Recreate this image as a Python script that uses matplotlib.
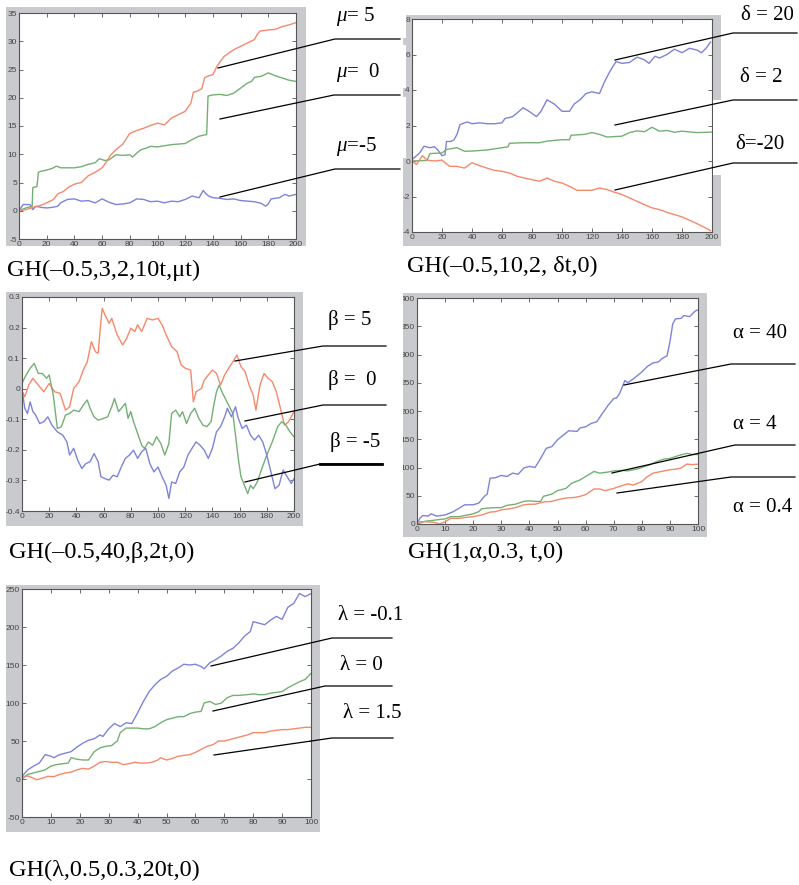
import matplotlib
matplotlib.use("Agg")
import matplotlib.pyplot as plt
from matplotlib.patches import Rectangle
from matplotlib.lines import Line2D

plt.rcParams['mathtext.fontset'] = 'custom'
plt.rcParams['mathtext.rm'] = 'Liberation Serif'
plt.rcParams['mathtext.it'] = 'Liberation Serif:italic'

# ---- data ----
# panel 1: GH(-0.5,3,2,10t,mu t)
p1_t_mu5 = [0, 5, 10, 15, 20, 25, 28, 32, 36, 40, 45, 50, 55, 60, 63, 66, 70, 75, 80, 85, 90, 95, 100,
            105, 110, 115, 120, 124, 126, 128, 132, 134, 136, 140, 143, 148, 152, 155, 160, 165, 170, 172,
            174, 180, 185, 190, 195, 200]
p1_mu5 = [0, 0.2, 0.6, 0.9, 1.4, 2.0, 3.0, 3.4, 4.2, 4.7, 5.0, 6.2, 6.8, 7.6, 8.6, 9.8, 10.8, 11.8, 13.7,
          14.2, 14.6, 15.1, 15.5, 15.2, 16.4, 17.0, 17.6, 19.0, 21.0, 21.1, 21.6, 23.5, 23.8, 24.1, 25.6,
          27.3, 28.0, 28.5, 29.1, 29.7, 30.3, 31.2, 31.8, 32.0, 32.1, 32.6, 32.9, 33.3]
p1_t_mu0 = [0, 5, 9.5, 10, 13, 14, 16, 20, 24, 27, 30, 35, 40, 45, 50, 55, 58, 62, 65, 70, 75, 80, 82, 85,
            88, 92, 95, 100, 105, 110, 115, 120, 125, 130, 135.5, 136.5, 140, 145, 150, 155, 160, 165,
            168, 170, 175, 180, 185, 190, 195, 200]
p1_mu0 = [0, 0.5, 0.8, 4.1, 4.3, 6.8, 7.0, 7.2, 7.5, 7.9, 7.6, 7.6, 7.6, 7.8, 8.2, 8.5, 9.2, 8.9, 9.0,
          9.9, 9.8, 9.9, 9.5, 10.2, 10.8, 11.1, 11.4, 11.3, 11.5, 11.7, 11.8, 11.9, 12.6, 13.2, 13.5,
          20.3, 20.5, 20.6, 20.4, 20.8, 21.7, 22.6, 22.9, 23.6, 23.8, 24.4, 23.9, 23.5, 23.1, 22.9]
p1_t_mum5 = [0, 3, 8, 10, 12, 16, 20, 24, 28, 30, 35, 40, 45, 50, 55, 60, 65, 70, 75, 80, 85, 90, 95,
             100, 105, 110, 115, 120, 125, 130, 133, 135, 137, 140, 145, 150, 155, 160, 165, 170, 175,
             178, 180, 182, 188, 192, 195, 200]
p1_mum5 = [0, 1.1, 1.1, 0.2, 0.8, 0.6, 0.5, 0.6, 0.8, 1.4, 2.0, 2.1, 1.7, 1.8, 1.4, 2.1, 1.5, 1.1, 1.2,
           1.4, 2.1, 2.0, 1.6, 1.7, 1.4, 1.7, 1.6, 2.0, 2.6, 2.3, 3.6, 3.0, 2.6, 2.3, 2.2, 2.0, 2.1, 1.8,
           1.7, 1.6, 1.3, 0.8, 1.2, 2.1, 2.3, 2.9, 2.6, 2.9]

# panel 2: GH(-0.5,10,2,delta t,0)
p2_t_d20 = [0, 3, 5, 8, 12, 15, 17, 20, 22, 23, 26, 28, 30, 32, 35, 37, 40, 45, 50, 55, 60, 62, 65, 67,
            70, 74, 78, 83, 86, 90, 95, 100, 105, 108, 112, 116, 120, 125, 128, 131, 133, 136, 140, 145,
            150, 155, 158, 162, 165, 170, 175, 180, 185, 190, 193, 196, 199]
p2_d20 = [0.08, 0.3, 0.45, 0.83, 0.75, 0.8, 0.64, 0.3, 0.35, 1.1, 1.1, 1.2, 1.5, 2.05, 2.15, 2.2, 2.1,
          2.15, 2.1, 2.1, 2.15, 2.4, 2.45, 2.5, 2.7, 3.0, 2.8, 2.5, 2.8, 3.45, 3.2, 2.8, 2.8, 3.2, 3.45,
          3.8, 3.9, 3.8, 4.4, 4.9, 5.2, 5.6, 5.5, 5.55, 5.85, 5.7, 5.5, 5.9, 5.8, 6.0, 6.3, 6.1, 6.35,
          6.25, 6.1, 6.35, 6.7]
p2_t_d2 = [0, 10, 12, 20, 23, 30, 35, 40, 50, 60, 64, 65, 75, 85, 90, 100, 105, 106, 115, 120, 125, 130,
           140, 145, 150, 155, 160, 165, 170, 175, 180, 190, 200]
p2_d2 = [0, 0.03, 0.42, 0.45, 0.65, 0.75, 0.55, 0.56, 0.62, 0.75, 0.8, 1.0, 1.03, 1.03, 1.12, 1.2, 1.2,
         1.45, 1.5, 1.6, 1.5, 1.35, 1.4, 1.6, 1.7, 1.65, 1.9, 1.68, 1.72, 1.62, 1.68, 1.6, 1.63]
p2_t_dm20 = [0, 3, 7, 10, 15, 20, 25, 30, 35, 40, 45, 50, 55, 60, 65, 70, 75, 80, 85, 90, 95, 100, 105,
             110, 115, 120, 125, 130, 135, 140, 145, 150, 155, 160, 165, 170, 175, 180, 185, 190, 195, 199]
p2_dm20 = [0, -0.2, 0.3, 0.05, 0, 0.05, -0.3, -0.3, -0.4, -0.1, -0.26, -0.4, -0.53, -0.58, -0.68, -0.86,
           -0.96, -1.05, -1.14, -0.96, -1.14, -1.24, -1.43, -1.65, -1.65, -1.65, -1.52, -1.61, -1.76,
           -1.89, -2.08, -2.27, -2.46, -2.64, -2.74, -2.89, -3.02, -3.15, -3.34, -3.53, -3.74, -3.93]

# panel 3: GH(-0.5,40,beta,2t,0)
p3_t_b5 = [0, 2, 5, 8, 12, 16, 20, 24, 28, 32, 35, 38, 42, 45, 48, 51, 54, 56, 58, 59, 61, 64, 66, 70,
           74, 77, 80, 83, 85, 88, 92, 96, 100, 103, 106, 110, 114, 117, 120, 124, 126, 128, 132, 134,
           137, 140, 143, 146, 149, 152, 155, 158, 161, 164, 167, 170, 172, 175, 178, 181, 184, 187,
           190, 193, 196, 200]
p3_b5 = [-0.008, -0.026, 0.012, 0.034, 0.012, -0.01, 0.017, -0.01, -0.015, -0.07, -0.059, 0.001, 0.023,
         0.061, 0.088, 0.154, 0.121, 0.116, 0.22, 0.263, 0.241, 0.214, 0.23, 0.176, 0.143, 0.165, 0.198,
         0.187, 0.209, 0.187, 0.23, 0.225, 0.23, 0.209, 0.176, 0.138, 0.121, 0.078, 0.067, 0.061, -0.043,
         -0.01, 0.001, 0.028, 0.045, 0.061, 0.05, 0.012, 0.045, 0.067, 0.088, 0.11, 0.072, 0.056, 0.012,
         -0.021, -0.07, 0.012, 0.05, 0.034, 0.023, -0.01, -0.064, -0.119, -0.108, -0.075]
p3_t_b0 = [0, 3, 6, 9, 12, 15, 18, 20, 23, 26, 29, 32, 35, 38, 42, 45, 48, 50, 53, 56, 60, 63, 66, 68,
           71, 74, 76, 78, 80, 82, 85, 88, 90, 93, 96, 99, 102, 105, 108, 110, 113, 116, 118, 121, 124,
           127, 130, 133, 136, 139, 141, 143, 145, 147, 150, 152, 155, 157, 159, 161, 163, 166, 168, 170,
           173, 176, 180, 184, 188, 191, 194, 197, 200]
p3_b0 = [0.017, 0.045, 0.067, 0.083, 0.05, 0.05, 0.034, 0.045, -0.021, -0.13, -0.124, -0.086, -0.081,
         -0.07, -0.075, -0.054, -0.037, -0.064, -0.092, -0.103, -0.097, -0.092, -0.059, -0.032, -0.075,
         -0.059, -0.048, -0.097, -0.075, -0.108, -0.146, -0.185, -0.195, -0.174, -0.185, -0.157, -0.179,
         -0.217, -0.179, -0.081, -0.07, -0.092, -0.075, -0.114, -0.081, -0.064, -0.097, -0.119, -0.124,
         -0.108, -0.054, -0.01, 0.012, -0.01, -0.037, -0.054, -0.081, -0.152, -0.228, -0.288, -0.31,
         -0.343, -0.316, -0.327, -0.305, -0.266, -0.217, -0.174, -0.124, -0.108, -0.119, -0.141, -0.157]
p3_t_bm5 = [0, 2, 4, 6, 8, 10, 13, 16, 19, 22, 26, 30, 33, 35, 38, 41, 44, 47, 50, 53, 56, 58, 61, 64,
            67, 70, 73, 76, 79, 82, 85, 88, 91, 94, 97, 100, 103, 106, 108, 110, 113, 116, 119, 122, 125,
            128, 131, 134, 137, 140, 143, 146, 149, 151, 154, 157, 159, 162, 165, 168, 171, 174, 177,
            180, 183, 186, 189, 192, 195, 198, 200]
p3_bm5 = [-0.001, -0.064, -0.081, -0.043, -0.075, -0.086, -0.114, -0.108, -0.092, -0.119, -0.141,
          -0.152, -0.174, -0.217, -0.195, -0.234, -0.261, -0.245, -0.239, -0.212, -0.239, -0.288,
          -0.294, -0.299, -0.283, -0.288, -0.256, -0.228, -0.217, -0.201, -0.228, -0.206, -0.195,
          -0.245, -0.272, -0.256, -0.288, -0.316, -0.359, -0.305, -0.31, -0.272, -0.256, -0.217,
          -0.195, -0.174, -0.185, -0.201, -0.228, -0.195, -0.141, -0.124, -0.092, -0.064, -0.092,
          -0.059, -0.097, -0.13, -0.119, -0.152, -0.168, -0.152, -0.174, -0.217, -0.272, -0.327,
          -0.316, -0.266, -0.288, -0.31, -0.294]

# panel 4: GH(1,alpha,0.3,t,0)
p4_t_a40 = [0, 1, 2, 4, 5, 7, 10, 13, 15, 17, 20, 22, 24, 25, 26, 28, 30, 32, 34, 36, 38, 40, 42, 44,
            46, 48, 50, 52, 54, 57, 58, 60, 62, 64, 66, 68, 70, 71, 72, 73, 74, 75, 77, 80, 82, 84, 86,
            87, 89, 90, 91, 92, 94, 95, 97, 99, 100]
p4_a40 = [0, 10, 15, 14, 18, 14, 16, 22, 28, 34, 34, 37, 49, 53, 81, 82, 86, 84, 90, 88, 99, 102, 100,
          116, 134, 137, 149, 157, 165, 164, 170, 172, 178, 181, 196, 210, 222, 223, 230, 242, 254, 250,
          257, 269, 279, 285, 287, 292, 298, 322, 354, 363, 364, 369, 367, 377, 379]
p4_t_a4 = [0, 3, 5, 8, 10, 12, 15, 18, 20, 22, 23, 25, 28, 30, 32, 35, 38, 40, 42, 44, 45, 48, 50, 53,
           55, 58, 60, 63, 65, 68, 70, 73, 75, 78, 80, 83, 85, 88, 90, 93, 96, 98, 100]
p4_a4 = [0, 5, 6, 8, 9, 13, 13, 16, 18, 22, 27, 28, 29, 29, 33, 35, 40, 41, 40, 40, 49, 53, 59, 63, 72,
         78, 84, 93, 90, 92, 94, 95, 94, 97, 100, 105, 110, 115, 116, 121, 125, 123, 123]
p4_t_a04 = [0, 3, 6, 8, 10, 12, 15, 18, 20, 23, 26, 28, 30, 33, 35, 38, 40, 42, 45, 48, 50, 53, 56, 58,
            60, 63, 65, 67, 70, 73, 75, 77, 80, 82, 84, 86, 88, 90, 92, 94, 96, 98, 100]
p4_a04 = [4, 4, 3, 0, 4, 10, 10, 12, 13, 16, 21, 22, 25, 27, 29, 34, 35, 35, 39, 40, 43, 46, 47, 49,
          52, 62, 62, 59, 63, 68, 71, 69, 75, 84, 90, 92, 94, 96, 97, 99, 106, 105, 106]

# panel 5: GH(lambda,0.5,0.3,20t,0)
p5_t_lm01 = [0, 2, 4, 6, 8, 10, 11, 13, 15, 17, 19, 21, 23, 25, 27, 28, 30, 32, 34, 36, 38, 40, 42, 44,
             46, 48, 50, 52, 54, 56, 58, 60, 62, 63, 65, 67, 69, 71, 73, 75, 77, 79, 80, 82, 84, 86, 88,
             90, 92, 94, 96, 98, 100]
p5_lm01 = [3.5, 12, 17, 21, 32, 30, 28, 32, 34, 36, 42, 47, 51, 53, 58, 56, 66, 73, 69, 74, 73, 87, 102,
           115, 124, 131, 135, 142, 146, 151, 150, 151, 148, 145, 153, 157, 162, 168, 172, 179, 188, 194,
           207, 205, 203, 209, 214, 210, 226, 231, 244, 240, 244]
p5_t_l0 = [0, 2, 4, 6, 8, 10, 12, 14, 16, 17, 19, 21, 23, 25, 27, 29, 31, 33, 34, 36, 40, 42, 44, 46,
           48, 50, 52, 54, 56, 58, 60, 62, 63, 65, 67, 69, 71, 73, 75, 78, 80, 82, 84, 86, 88, 90, 92,
           94, 96, 98, 100]
p5_l0 = [0, 6, 8, 10, 12, 17, 19, 20, 21, 28, 26, 25, 25, 36, 41, 43, 44, 50, 61, 67, 67, 66, 66, 69,
         74, 78, 80, 82, 82, 86, 88, 89, 100, 102, 98, 100, 107, 110, 110, 111, 112, 111, 111, 113, 114,
         115, 120, 124, 128, 131, 139]
p5_t_l15 = [0, 2, 4, 5, 7, 9, 11, 13, 15, 17, 19, 21, 23, 25, 27, 29, 31, 33, 35, 37, 39, 41, 43, 45,
            47, 48, 50, 52, 54, 56, 58, 60, 62, 64, 66, 68, 70, 72, 74, 76, 78, 80, 82, 84, 86, 88, 90,
            92, 94, 96, 98, 100]
p5_l15 = [3, 4, 1, -1, 1, 3.5, 3, 6, 8, 9, 12, 14, 13, 17, 22, 23, 22, 22, 19, 20, 22, 21, 21, 22, 25,
          28, 25, 27, 30, 31, 32, 35, 39, 43, 45, 50, 50, 52, 54, 56, 58, 61, 61, 61, 63, 64, 65, 65, 66,
          67, 68, 68]

BLUE = '#7d84da'
GREEN = '#74b074'
RED = '#f6896b'
GRAY = '#c9cacd'

W, H = 799, 885
fig = plt.figure(figsize=(W / 100, H / 100), dpi=100)


def rect(x0, y0, x1, y1):
    # pixel box (y measured from the top) -> figure fraction
    return [x0 / W, 1 - y1 / H, (x1 - x0) / W, (y1 - y0) / H]


def panel(frame_px, axes_px, xlim, ylim, xticks, yticks, ylabels, series):
    fr = rect(*frame_px)
    frame = Rectangle((fr[0], fr[1]), fr[2], fr[3], transform=fig.transFigure,
                      facecolor=GRAY, edgecolor='none', zorder=0.1)
    fig.add_artist(frame)
    ax = fig.add_axes(rect(*axes_px))
    ax.set_zorder(1)
    for t, v, c in series:
        ax.plot(t, v, color=c, lw=1.0)
    ax.set_xlim(*xlim)
    ax.set_ylim(*ylim)
    ax.set_xticks(xticks)
    ax.set_yticks(yticks)
    ax.set_yticklabels(ylabels)
    ax.tick_params(direction='in', length=3, width=0.6, top=True, right=True,
                   labelsize=6, pad=1.5, labelcolor='#444444', color='#555555')
    for s in ax.spines.values():
        s.set_color('#555555')
        s.set_linewidth(0.8)
    for lab in ax.get_xticklabels() + ax.get_yticklabels():
        lab.set_fontfamily('Liberation Sans')
        lab.set_clip_path(frame)
    return ax


def callout(x0, y0, x1, y1, x2, label, tx, ty, lw=0.9):
    fig.add_artist(Line2D([x0 / W, x1 / W, x2 / W], [1 - y0 / H, 1 - y1 / H, 1 - y1 / H],
                          transform=fig.transFigure, color='black', lw=lw, zorder=3))
    fig.text(tx / W, 1 - ty / H, label, fontsize=15, family='Liberation Serif',
             ha='left', va='center', zorder=3)


def caption(x, y, s):
    fig.text(x / W, 1 - y / H, s, fontsize=17.5, family='Liberation Serif', ha='left', va='center')


# panel 1
panel((6, 7, 306, 246), (19, 13, 296, 239), (0, 200), (-5, 35), range(0, 201, 20),
      range(-5, 36, 5), [str(v) for v in range(-5, 36, 5)],
      [(p1_t_mum5, p1_mum5, BLUE), (p1_t_mu0, p1_mu0, GREEN), (p1_t_mu5, p1_mu5, RED)])
callout(218, 68, 335, 39, 400, r'$\mu$= 5', 336, 17)
callout(220, 119, 334, 95, 400, r'$\mu$=  0', 336, 72)
callout(220, 197, 335, 169, 400, r'$\mu$=-5', 336, 147)
caption(7, 270, 'GH(–0.5,3,2,10t,μt)')

# panel 2
panel((403, 15, 721, 246), (412, 19, 712, 232), (0, 200), (-4, 8), range(0, 201, 20),
      range(-4, 9, 2), [str(v) for v in range(-4, 9, 2)],
      [(p2_t_d20, p2_d20, BLUE), (p2_t_d2, p2_d2, GREEN), (p2_t_dm20, p2_dm20, RED)])
for x0, y0, x1, y1 in [(396, 14, 406, 38), (396, 45, 406, 88), (396, 97, 406, 158), (713, 100, 799, 175)]:
    r = rect(x0, y0, x1, y1)
    fig.add_artist(Rectangle((r[0], r[1]), r[2], r[3], transform=fig.transFigure,
                             facecolor='white', edgecolor='none', zorder=2))
callout(615, 60, 733, 33, 797, 'δ = 20', 741, 15)
callout(615, 125, 733, 100, 797, 'δ = 2', 740, 78)
callout(615, 190, 733, 163, 797, 'δ=-20', 735, 145)
caption(407, 266, 'GH(–0.5,10,2, δt,0)')

# panel 3
p3_ticks = [-0.4, -0.3, -0.2, -0.1, 0, 0.1, 0.2, 0.3]
panel((6, 292, 303, 526), (22, 297, 294, 511), (0, 200), (-0.4, 0.3), range(0, 201, 20),
      p3_ticks, ['-0.4', '-0.3', '-0.2', '-0.1', '0', '0.1', '0.2', '0.3'],
      [(p3_t_b5, p3_b5, RED), (p3_t_b0, p3_b0, GREEN), (p3_t_bm5, p3_bm5, BLUE)])
callout(235, 361, 323, 346, 386, 'β = 5', 328, 320)
callout(245, 421, 323, 405, 386, 'β =  0', 328, 380)
callout(245, 482, 320, 464, 382, 'β = -5', 330, 442)
fig.add_artist(Line2D([320 / W, 382 / W], [1 - 464 / H, 1 - 464 / H], transform=fig.transFigure,
                      color='black', lw=2.0, zorder=3))
caption(9, 552, 'GH(–0.5,40,β,2t,0)')

# panel 4
panel((403, 293, 707, 537), (417, 298, 698, 524), (0, 100), (0, 400), range(0, 101, 10),
      range(0, 401, 50), [str(v) for v in range(0, 401, 50)],
      [(p4_t_a40, p4_a40, BLUE), (p4_t_a4, p4_a4, GREEN), (p4_t_a04, p4_a04, RED)])
callout(624, 385, 731, 364, 795, 'α = 40', 733, 333)
callout(612, 473, 735, 445, 795, 'α = 4', 733, 424)
callout(617, 493, 731, 477, 795, 'α = 0.4', 733, 508)
caption(408, 552, 'GH(1,α,0.3, t,0)')

# panel 5
panel((6, 585, 320, 832), (22, 589, 311, 817), (0, 100), (-50, 250), range(0, 101, 10),
      range(-50, 251, 50), [str(v) for v in range(-50, 251, 50)],
      [(p5_t_lm01, p5_lm01, BLUE), (p5_t_l0, p5_l0, GREEN), (p5_t_l15, p5_l15, RED)])
callout(211, 666, 332, 638, 392, 'λ = -0.1', 338, 615)
callout(213, 711, 325, 686, 392, 'λ = 0', 340, 665)
callout(214, 755, 332, 738, 393, 'λ = 1.5', 343, 713)
caption(9, 870, 'GH(λ,0.5,0.3,20t,0)')

fig.savefig('out.png', dpi=100)
